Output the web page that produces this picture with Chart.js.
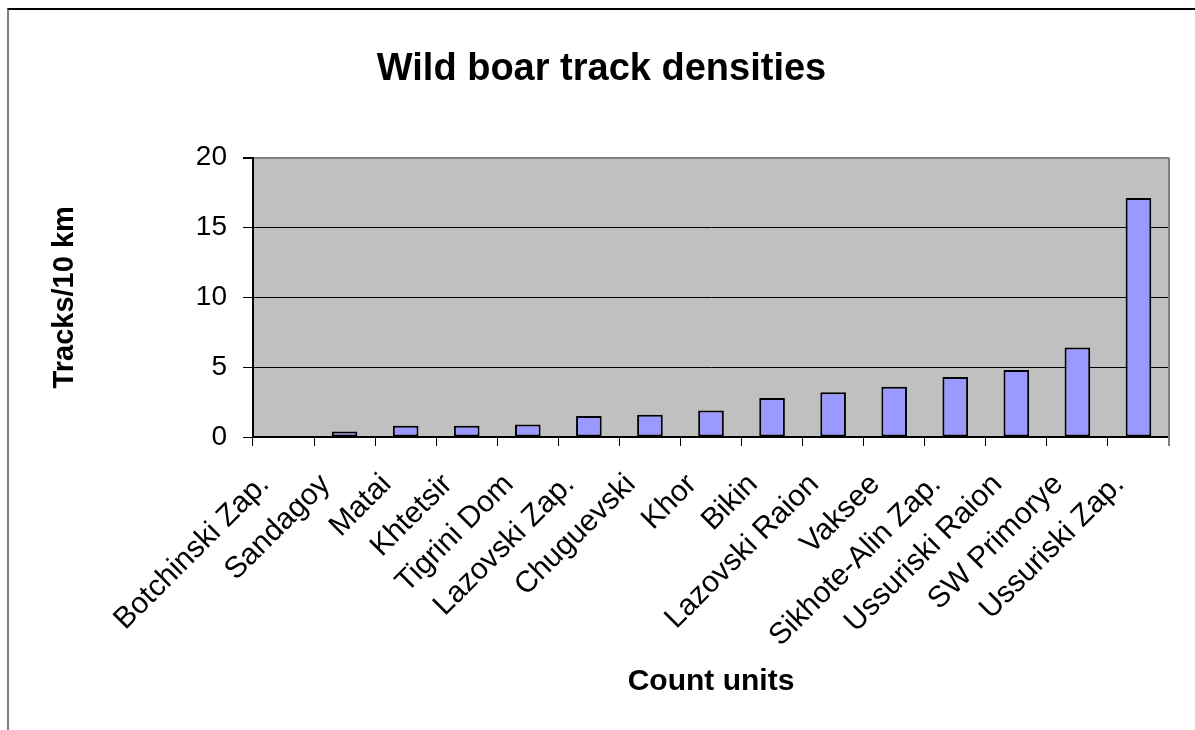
<!DOCTYPE html>
<html>
<head>
<meta charset="utf-8">
<title>Wild boar track densities</title>
<script src="https://cdn.jsdelivr.net/npm/chart.js@4.4.1/dist/chart.umd.min.js"></script>
<style>
  html, body { margin: 0; padding: 0; background: #fff; }
  #wrap { position: relative; width: 1195px; height: 730px; overflow: hidden; }
  #frame { position: absolute; left: 7px; top: 8px; right: -4px; bottom: -4px;
           border-top: 2px solid #000; border-left: 2px solid #808080; pointer-events: none; }
  canvas { position: absolute; left: 0; top: 0; }
</style>
</head>
<body>
<div id="wrap">
  <canvas id="chart" width="1195" height="730"></canvas>
  <div id="frame"></div>
</div>
<script>
// Count units, ordered by track density
const countUnits = [
  'Botchinski Zap.', 'Sandagoy', 'Matai', 'Khtetsir', 'Tigrini Dom',
  'Lazovski Zap.', 'Chuguevski', 'Khor', 'Bikin', 'Lazovski Raion',
  'Vaksee', 'Sikhote-Alin Zap.', 'Ussuriski Raion', 'SW Primorye', 'Ussuriski Zap.'
];
// Tracks per 10 km
const tracksPer10km = [0, 0.4, 0.8, 0.8, 0.9, 1.5, 1.6, 1.9, 2.8, 3.2, 3.6, 4.3, 4.8, 6.4, 17.1];
const yMin = 0;
const yMax = 20;
const yStep = 5;

const FONT = '"Liberation Sans", Arial, Helvetica, sans-serif';

// grey plot background with a grey frame on the right
const plotArea = {
  id: 'plotArea',
  beforeDraw(chart) {
    const { ctx, chartArea: a } = chart;
    ctx.save();
    ctx.fillStyle = '#c0c0c0';
    ctx.fillRect(a.left, a.top, a.right - a.left, a.bottom - a.top);
    ctx.restore();
  },
  beforeDatasetsDraw(chart) {
    const { ctx, chartArea: a } = chart;
    ctx.save();
    ctx.strokeStyle = '#808080';
    ctx.lineWidth = 2;
    ctx.beginPath();
    ctx.moveTo(a.right, a.top);
    ctx.lineTo(a.right, a.bottom + 9);
    ctx.stroke();
    ctx.restore();
  }
};

new Chart(document.getElementById('chart'), {
  type: 'bar',
  data: {
    labels: countUnits,
    datasets: [{
      data: tracksPer10km,
      backgroundColor: '#9999ff',
      borderColor: '#000000',
      borderWidth: 2,
      borderSkipped: false,
      barPercentage: 0.42,
      categoryPercentage: 1.0
    }]
  },
  options: {
    responsive: false,
    animation: false,
    devicePixelRatio: 1,
    layout: { padding: { left: 34, right: 26, top: 0, bottom: 0 } },
    plugins: {
      legend: { display: false },
      tooltip: { enabled: false },
      title: {
        display: true,
        text: 'Wild boar track densities',
        color: '#000',
        font: { family: FONT, size: 38, weight: 'bold' },
        padding: { top: 47, bottom: 65 }
      }
    },
    scales: {
      x: {
        grid: {
          offset: true,
          drawOnChartArea: false,
          drawTicks: true,
          tickLength: 9,
          color: '#000',
          tickColor: '#000'
        },
        border: { color: '#000', width: 2 },
        ticks: {
          autoSkip: false,
          minRotation: 45,
          maxRotation: 45,
          padding: 21,
          labelOffset: -19,
          color: '#000',
          font: { family: FONT, size: 30 }
        },
        title: {
          display: true,
          text: 'Count units',
          color: '#000',
          font: { family: FONT, size: 30, weight: 'bold' },
          padding: { top: 0, bottom: 30 }
        },
        afterFit(scale) { scale.height = 293; }
      },
      y: {
        min: yMin,
        max: yMax,
        grid: {
          color: (c) => (c.tick && c.tick.value === yMax ? '#808080' : '#000'),
          tickColor: '#000',
          tickLength: 10,
          lineWidth: (c) => (c.tick && c.tick.value === yMax ? 2 : 1)
        },
        border: { color: '#000', width: 2 },
        ticks: {
          stepSize: yStep,
          padding: 16,
          color: '#000',
          font: { family: FONT, size: 28 }
        },
        title: {
          display: true,
          text: 'Tracks/10 km',
          color: '#000',
          font: { family: FONT, size: 29, weight: 'bold' },
          padding: { top: 14, bottom: 0 }
        },
        afterFit(scale) { scale.width = 219; }
      }
    }
  },
  plugins: [plotArea]
});
</script>
</body>
</html>
